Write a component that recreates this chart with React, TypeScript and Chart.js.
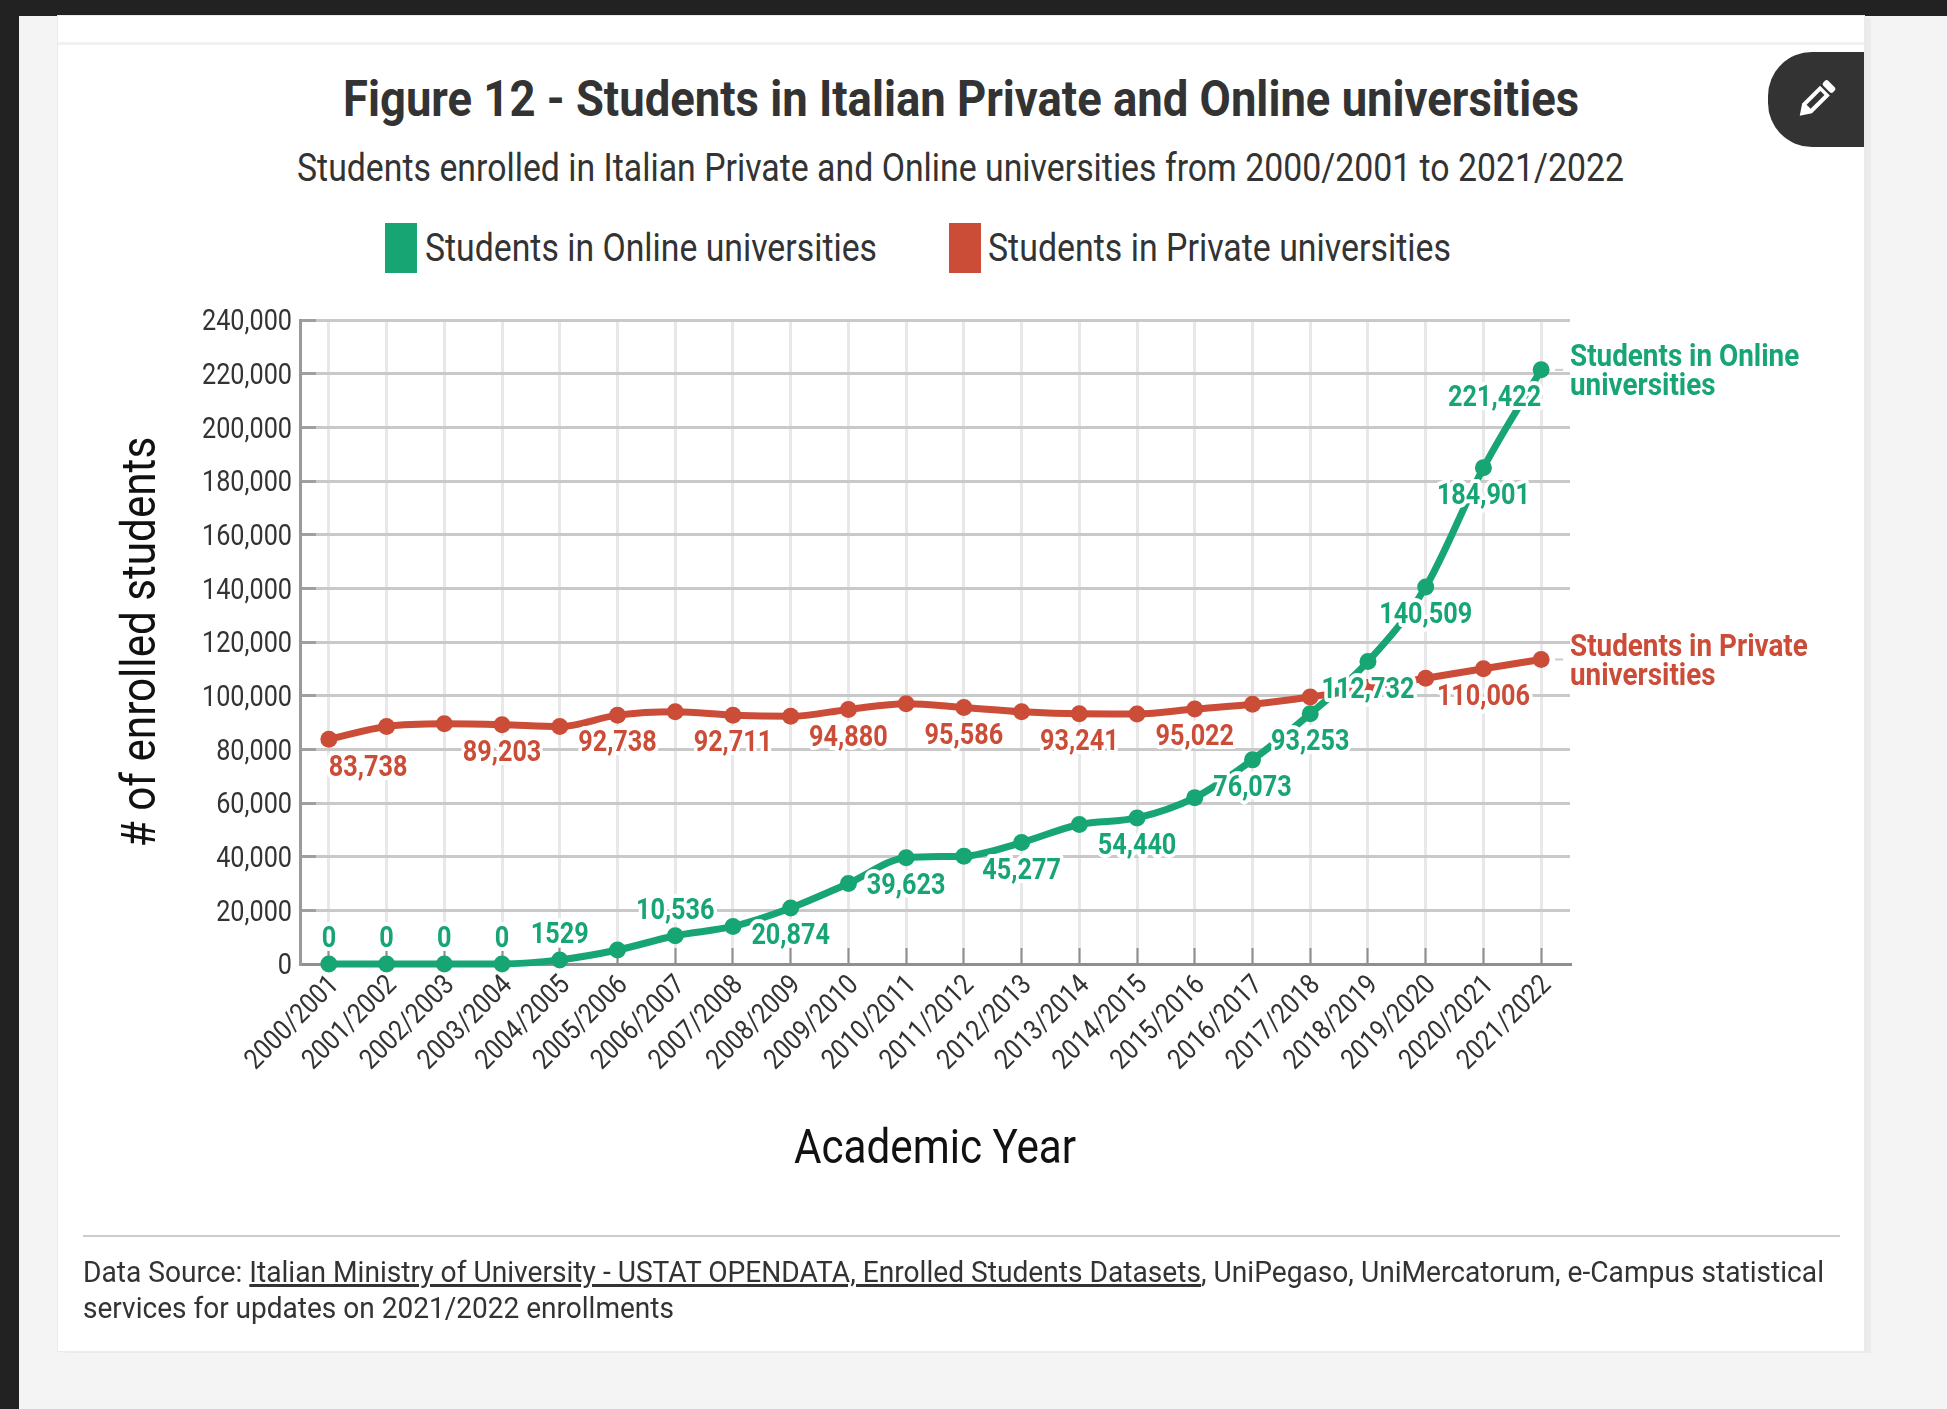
import React, { useEffect, useLayoutEffect, useRef } from "react";
import { Chart, registerables } from "chart.js";

Chart.register(...registerables);

const categories = ["2000/2001","2001/2002","2002/2003","2003/2004","2004/2005","2005/2006","2006/2007","2007/2008","2008/2009","2009/2010","2010/2011","2011/2012","2012/2013","2013/2014","2014/2015","2015/2016","2016/2017","2017/2018","2018/2019","2019/2020","2020/2021","2021/2022"];
const onlineStudents = [0,0,0,0,1529,5200,10536,14000,20874,30000,39623,40200,45277,52000,54440,62000,76073,93253,112732,140509,184901,221422];
const privateStudents = [83738,88500,89500,89203,88500,92738,94000,92711,92300,94880,97000,95586,94000,93241,93200,95022,96800,99500,103000,106500,110006,113500];
const onlineLabels = ["0","0","0","0","1529",null,"10,536",null,"20,874",null,"39,623",null,"45,277",null,"54,440",null,"76,073","93,253","112,732","140,509","184,901","221,422"];
const privateLabels = ["83,738",null,null,"89,203",null,"92,738",null,"92,711",null,"94,880",null,"95,586",null,"93,241",null,"95,022",null,null,null,null,"110,006",null];
const onlineLabelsAbove = [true,true,true,true,true,false,true,false,false,false,false,false,false,false,false,false,false,false,false,false,false,false];
const onlineEndLabel = ["Students in Online","universities"];
const privateEndLabel = ["Students in Private","universities"];
const legendNames = ["Students in Online universities","Students in Private universities"];

const GREEN = "#17a574";
const RED = "#cb4c37";
const INK = "#333333";
const SQUEEZE = 0.87;
const BASELINE_SHIFT = 3;
const FONT = "Roboto";

const labelPlugin = {
  id: "valueLabels",
  afterDatasetsDraw(chart: any) {
    const ctx = chart.ctx;
    const sets = [
      { labels: onlineLabels, above: onlineLabelsAbove, end: onlineEndLabel, color: GREEN, meta: chart.getDatasetMeta(0) },
      { labels: privateLabels, above: privateLabels.map(() => false), end: privateEndLabel, color: RED, meta: chart.getDatasetMeta(1) },
    ];
    ctx.save();
    sets.forEach((s) => {
      const n = s.meta.data.length;
      const last = s.meta.data[n - 1];
      ctx.strokeStyle = "#cccccc";
      ctx.lineWidth = 2;
      ctx.beginPath();
      ctx.moveTo(last.x + 14, last.y);
      ctx.lineTo(last.x + 22, last.y);
      ctx.stroke();
    });
    sets.forEach((s) => {
      ctx.font = `700 29px ${FONT}`;
      ctx.textBaseline = "middle";
      ctx.lineJoin = "round";
      s.meta.data.forEach((pt: any, j: number) => {
        const text = s.labels[j];
        if (!text) return;
        ctx.textAlign = j === 0 && s.labels === privateLabels ? "left" : j === categories.length - 1 ? "right" : "center";
        const y = pt.y + (s.above[j] ? -27 : 26);
        ctx.strokeStyle = "#ffffff";
        ctx.lineWidth = 8;
        ctx.strokeText(text, pt.x, y);
        ctx.fillStyle = s.color;
        ctx.fillText(text, pt.x, y);
      });
      const lastPt = s.meta.data[s.meta.data.length - 1];
      ctx.textAlign = "left";
      ctx.fillStyle = s.color;
      ctx.font = `700 32px ${FONT}`;
      s.end.forEach((line, k) => {
        ctx.fillText(line, chart.chartArea.right, lastPt.y + (k - 0.5) * 29);
      });
    });
    ctx.restore();
  },
};

function Fit({ w, left, cy, size, weight = 400, color = INK, lh, children }: any) {
  const ref = useRef<HTMLDivElement>(null);
  useLayoutEffect(() => {
    const el = ref.current!;
    el.style.transform = "none";
    el.style.transform = `scaleX(${w / el.getBoundingClientRect().width})`;
  });
  const h = lh ?? size * 1.4;
  return (
    <div ref={ref} style={{ position: "absolute", left, top: cy - h / 2, lineHeight: `${h}px`, fontFamily: FONT, fontSize: size, fontWeight: weight, color, whiteSpace: "nowrap", transformOrigin: "left top" }}>
      {children}
    </div>
  );
}

const box = (left: number, top: number, width: number, height: number, background: string, extra: any = {}) => (
  <div style={{ position: "absolute", left, top, width, height, background, ...extra }} />
);

export default function App() {
  const canvasRef = useRef<HTMLCanvasElement>(null);
  useEffect(() => {
    const canvas = canvasRef.current!;
    const ctx = canvas.getContext("2d") as any;
    const rawFill = ctx.fillText.bind(ctx);
    const rawStroke = ctx.strokeText.bind(ctx);
    const wrap = (raw: any) => (t: string, x: number, y: number) => {
      ctx.save();
      ctx.translate(x, y + (ctx.textBaseline === "middle" ? BASELINE_SHIFT : 0));
      ctx.scale(SQUEEZE, 1);
      raw(t, 0, 0);
      ctx.restore();
    };
    ctx.fillText = wrap(rawFill);
    ctx.strokeText = wrap(rawStroke);
    const chart = new Chart(canvas, {
      type: "line",
      data: {
        labels: categories,
        datasets: [
          { label: legendNames[0], data: onlineStudents, borderColor: GREEN, backgroundColor: GREEN, borderWidth: 7, pointRadius: 8.5, pointBorderWidth: 0, pointHoverRadius: 8.5, cubicInterpolationMode: "monotone", clip: false },
          { label: legendNames[1], data: privateStudents, borderColor: RED, backgroundColor: RED, borderWidth: 7, pointRadius: 8.5, pointBorderWidth: 0, pointHoverRadius: 8.5, cubicInterpolationMode: "monotone", clip: false },
        ],
      },
      options: {
        responsive: false,
        animation: false,
        layout: { padding: { left: 111, right: 377, top: 320, bottom: 232 } },
        plugins: { legend: { display: false }, title: { display: false }, tooltip: { enabled: false } },
        scales: {
          x: {
            type: "category",
            offset: true,
            afterFit: (s: any) => { s.height = 213; },
            title: { display: true, text: "Academic Year", color: "#111111", font: { family: FONT, size: 48.5 }, padding: 0 },
            grid: { color: "#e8e8e8", lineWidth: 3, tickLength: -16, tickColor: "#8f8f8f", tickWidth: 2 },
            border: { color: "#8f8f8f", width: 3 },
            ticks: { color: INK, font: { family: FONT, size: 28 }, minRotation: 45, maxRotation: 45, autoSkip: false, padding: 19, labelOffset: 4 },
          },
          y: {
            min: 0,
            max: 240000,
            afterFit: (s: any) => { s.width = 189; },
            title: { display: true, text: "# of enrolled students", color: "#111111", font: { family: FONT, size: 48.5 }, padding: 0 },
            grid: { color: "#c9c9c9", lineWidth: 3, tickLength: -16, tickColor: "#a0a0a0", tickWidth: 3 },
            border: { color: "#9a9a9a", width: 3 },
            ticks: { stepSize: 20000, color: INK, font: { family: FONT, size: 29 }, padding: 24, callback: (v: any) => Number(v).toLocaleString("en-US") },
          },
        },
      } as any,
      plugins: [labelPlugin],
    });
    return () => chart.destroy();
  }, []);

  return (
    <div style={{ position: "absolute", left: 0, top: 0, width: 1947, height: 1409, background: "#f4f4f4", overflow: "hidden" }}>
      {box(0, 0, 1947, 16, "#222222")}
      {box(0, 0, 19, 1409, "#222222")}
      {box(58, 16, 1806, 1335, "#ffffff", { boxShadow: "0 0 0 1px #ebebeb, 7px 2px 0 #ebebeb" })}
      {box(58, 42, 1806, 3, "#f1f1f1")}
      <div style={{ position: "absolute", left: 1768, top: 52, width: 96, height: 95, background: "#333333", borderRadius: "44px 0 0 44px" }}>
        <svg width="96" height="95" viewBox="0 0 96 95">
          <g transform="translate(48 47.5) rotate(45) scale(1.15 1.15)">
            <rect x="-6" y="-19" width="12" height="6" rx="2" fill="#ffffff" />
            <path d="M-6 -11 H6 V11 L0 20 L-6 11 Z" fill="#ffffff" />
            <rect x="-2.6" y="-8" width="5" height="17" fill="#333333" />
          </g>
        </svg>
      </div>
      <Fit left={343} cy={99} size={50} weight={700} w={1236}>Figure 12 - Students in Italian Private and Online universities</Fit>
      <Fit left={297} cy={169} size={38} w={1327}>Students enrolled in Italian Private and Online universities from 2000/2001 to 2021/2022</Fit>
      {box(385, 223, 32, 50, GREEN)}
      <Fit left={425} cy={249} size={38} w={452}>{legendNames[0]}</Fit>
      {box(949, 223, 32, 50, RED)}
      <Fit left={988} cy={249} size={38} w={463}>{legendNames[1]}</Fit>
      <canvas ref={canvasRef} width={1947} height={1409} style={{ position: "absolute", left: 0, top: 0, width: 1947, height: 1409 }} />
      {box(83, 1235, 1757, 2, "#cccccc")}
      <Fit left={83} cy={1272} size={30} w={1741}>
        Data Source: <span style={{ textDecoration: "underline" }}>Italian Ministry of University - USTAT OPENDATA, Enrolled Students Datasets</span>, UniPegaso, UniMercatorum, e-Campus statistical
      </Fit>
      <Fit left={83} cy={1308} size={30} w={591}>services for updates on 2021/2022 enrollments</Fit>
    </div>
  );
}
